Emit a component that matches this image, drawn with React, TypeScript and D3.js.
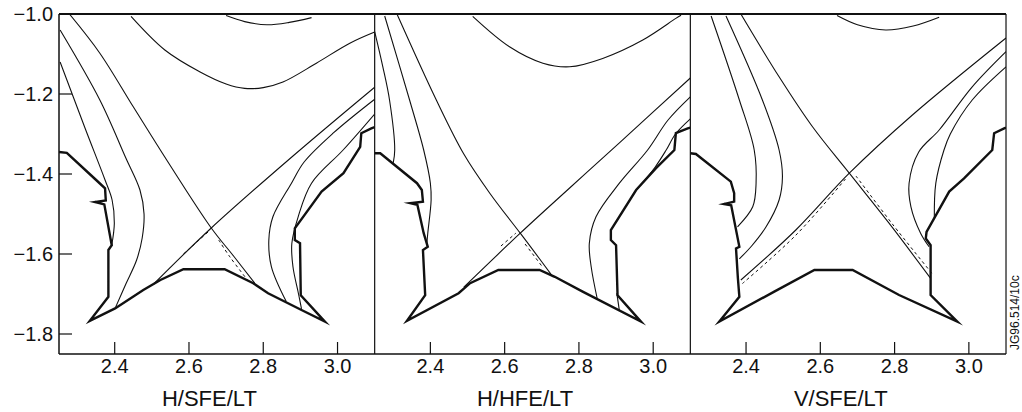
import React from 'react';
import * as d3 from 'd3';

type Pt = [number, number];

const xTicks = [2.4, 2.6, 2.8, 3.0];
const yTicks = [-1.0, -1.2, -1.4, -1.6, -1.8];
const panelTitles = ['H/SFE/LT', 'H/HFE/LT', 'V/SFE/LT'];
const xDomain: [number, number] = [2.25, 3.1];
const yDomain: [number, number] = [-1.85, -1.0];
const figureCode = 'JG96.514/10c';

// ---------- Panel 1 : H/SFE/LT ----------
const p1Boundary: Pt[] = [
  [2.25, -1.345], [2.271, -1.347], [2.35, -1.415], [2.374, -1.436], [2.376, -1.466], [2.347, -1.47],
  [2.372, -1.476], [2.392, -1.578], [2.383, -1.59], [2.383, -1.707], [2.333, -1.767], [2.401, -1.736],
  [2.477, -1.69], [2.523, -1.665], [2.585, -1.638], [2.696, -1.638], [2.773, -1.673], [2.813, -1.698],
  [2.903, -1.74], [2.966, -1.769], [2.901, -1.703], [2.899, -1.573], [2.885, -1.565], [2.885, -1.536],
  [2.957, -1.444], [3.016, -1.398], [3.061, -1.332], [3.064, -1.298], [3.091, -1.286], [3.1, -1.283],
];
const p1ArcTop: Pt[] = [[2.70, -1.004], [2.75, -1.019], [2.81, -1.027], [2.87, -1.021], [2.93, -1.009]];
const p1ArcMid: Pt[] = [
  [2.444, -1.006], [2.535, -1.09], [2.63, -1.145], [2.70, -1.175], [2.75, -1.186], [2.80, -1.184],
  [2.853, -1.17], [2.943, -1.123], [3.033, -1.073], [3.1, -1.045],
];
const p1LeftOuter: Pt[] = [
  [2.253, -1.04], [2.36, -1.215], [2.43, -1.36], [2.468, -1.44], [2.479, -1.5], [2.474, -1.56],
  [2.459, -1.615], [2.43, -1.675], [2.401, -1.736],
];
const p1LeftInner: Pt[] = [[2.253, -1.12], [2.32, -1.285], [2.374, -1.415], [2.393, -1.465], [2.399, -1.523], [2.392, -1.578]];
const p1Desc: Pt[] = [[2.278, -1.0], [2.36, -1.098], [2.45, -1.232], [2.54, -1.365], [2.66, -1.535], [2.72, -1.605], [2.777, -1.673]];
const p1Asc: Pt[] = [[2.505, -1.675], [2.66, -1.535], [2.88, -1.355], [3.1, -1.183]];
const p1RightOuter: Pt[] = [
  [3.1, -1.213], [2.988, -1.298], [2.91, -1.37], [2.876, -1.423], [2.826, -1.507], [2.815, -1.565],
  [2.822, -1.632], [2.862, -1.719],
];
const p1RightInner: Pt[] = [
  [3.1, -1.25], [3.015, -1.34], [2.93, -1.423], [2.894, -1.507], [2.877, -1.573], [2.88, -1.632],
  [2.895, -1.70], [2.903, -1.737],
];
const p1DashAsc: Pt[] = [[2.585, -1.60], [2.655, -1.542]];
const p1DashDesc: Pt[] = [[2.68, -1.565], [2.71, -1.607], [2.76, -1.668]];

// ---------- Panel 2 : H/HFE/LT ----------
const p2Boundary: Pt[] = [
  [2.25, -1.348], [2.265, -1.348], [2.364, -1.423], [2.377, -1.44], [2.38, -1.469], [2.346, -1.473],
  [2.365, -1.477], [2.382, -1.548], [2.393, -1.582], [2.38, -1.59], [2.386, -1.703], [2.337, -1.767],
  [2.476, -1.698], [2.507, -1.673], [2.583, -1.64], [2.694, -1.64], [2.735, -1.657], [2.81, -1.694],
  [2.967, -1.769], [2.904, -1.703], [2.90, -1.578], [2.886, -1.565], [2.886, -1.54], [2.954, -1.44],
  [3.007, -1.386], [3.057, -1.34], [3.061, -1.298], [3.093, -1.286], [3.1, -1.284],
];
const p2Arc: Pt[] = [
  [2.514, -1.006], [2.613, -1.082], [2.703, -1.123], [2.775, -1.132], [2.864, -1.111], [2.972, -1.065],
  [3.061, -1.011], [3.075, -1.003],
];
const p2LeftA: Pt[] = [[2.25, -1.044], [2.272, -1.132], [2.29, -1.215], [2.304, -1.34], [2.30, -1.372]];
const p2LeftB: Pt[] = [[2.277, -1.005], [2.344, -1.215], [2.382, -1.34], [2.40, -1.423], [2.402, -1.465], [2.393, -1.548], [2.39, -1.578]];
const p2Desc: Pt[] = [[2.31, -1.0], [2.416, -1.215], [2.49, -1.35], [2.56, -1.448], [2.642, -1.548], [2.673, -1.586], [2.73, -1.657]];
const p2Asc: Pt[] = [[2.49, -1.683], [2.642, -1.548], [2.775, -1.435], [2.909, -1.322], [3.1, -1.16]];
const p2RightA: Pt[] = [
  [3.1, -1.207], [3.04, -1.265], [2.985, -1.34], [2.909, -1.423], [2.846, -1.507], [2.828, -1.573],
  [2.833, -1.632], [2.85, -1.715],
];
const p2RightB: Pt[] = [[3.1, -1.262], [3.06, -1.30], [3.035, -1.34], [3.005, -1.383], [2.955, -1.44]];
const p2RightBLow: Pt[] = [[2.902, -1.698], [2.909, -1.742]];
const p2DashAsc: Pt[] = [[2.59, -1.58], [2.63, -1.548]];
const p2DashDesc: Pt[] = [[2.655, -1.575], [2.70, -1.63]];

// ---------- Panel 3 : V/SFE/LT ----------
const p3Boundary: Pt[] = [
  [2.25, -1.348], [2.265, -1.35], [2.359, -1.419], [2.368, -1.448], [2.368, -1.469], [2.341, -1.475],
  [2.36, -1.478], [2.382, -1.582], [2.373, -1.586], [2.378, -1.66], [2.382, -1.707], [2.328, -1.769],
  [2.476, -1.694], [2.584, -1.64], [2.687, -1.64], [2.812, -1.7025], [2.969, -1.769], [2.897, -1.7025],
  [2.897, -1.578], [2.884, -1.561], [2.886, -1.545], [2.947, -1.444], [2.987, -1.411], [3.063, -1.34],
  [3.068, -1.298], [3.095, -1.286], [3.1, -1.284],
];
const p3ArcTop: Pt[] = [[2.645, -1.004], [2.70, -1.027], [2.776, -1.04], [2.85, -1.03], [2.92, -1.008]];
const p3LeftA: Pt[] = [[2.306, -1.005], [2.382, -1.215], [2.422, -1.34], [2.427, -1.423], [2.418, -1.482], [2.377, -1.532]];
const p3LeftB: Pt[] = [
  [2.346, -1.005], [2.444, -1.215], [2.489, -1.34], [2.498, -1.407], [2.489, -1.465], [2.454, -1.532],
  [2.415, -1.58], [2.382, -1.612],
];
const p3Desc: Pt[] = [[2.386, -1.0], [2.489, -1.157], [2.579, -1.282], [2.678, -1.398], [2.785, -1.523], [2.897, -1.661]];
const p3Asc: Pt[] = [[2.386, -1.665], [2.534, -1.54], [2.678, -1.398], [2.848, -1.2525], [3.1, -1.06]];
const p3RightA: Pt[] = [
  [3.1, -1.094], [3.009, -1.182], [2.92, -1.29], [2.865, -1.345], [2.839, -1.423], [2.844, -1.482],
  [2.87, -1.548], [2.893, -1.582],
];
const p3RightB: Pt[] = [[3.1, -1.132], [3.009, -1.215], [2.95, -1.30], [2.933, -1.34], [2.911, -1.423], [2.907, -1.511]];
const p3DashAsc: Pt[] = [[2.39, -1.674], [2.534, -1.553], [2.67, -1.41]];
const p3DashDesc: Pt[] = [[2.696, -1.405], [2.794, -1.525], [2.90, -1.648]];

const panels = [
  {
    title: panelTitles[0], boundary: p1Boundary,
    thin: [p1ArcTop, p1ArcMid, p1LeftOuter, p1LeftInner, p1Desc, p1Asc, p1RightOuter, p1RightInner],
    dashed: [p1DashAsc, p1DashDesc],
  },
  {
    title: panelTitles[1], boundary: p2Boundary,
    thin: [p2Arc, p2LeftA, p2LeftB, p2Desc, p2Asc, p2RightA, p2RightB, p2RightBLow],
    dashed: [p2DashAsc, p2DashDesc],
  },
  {
    title: panelTitles[2], boundary: p3Boundary,
    thin: [p3ArcTop, p3LeftA, p3LeftB, p3Desc, p3Asc, p3RightA, p3RightB],
    dashed: [p3DashAsc, p3DashDesc],
  },
];

const TOP = 14;
const BOTTOM = 354;
const LEFT0 = 59;
const PW = 315.67;
const INK = '#111';
const FONT = '"Liberation Sans", Arial, Helvetica, sans-serif';

export default function App() {
  const y = d3.scaleLinear().domain(yDomain).range([BOTTOM, TOP]);
  const fmtY = (v: number) => '\u2212' + Math.abs(v).toFixed(1);
  return (
    <svg width={1022} height={412} style={{ position: 'absolute', left: 0, top: 0, background: '#fff' }}>
      <rect x={0} y={0} width={1022} height={412} fill="#fff" />
      <defs>
        {panels.map((_, i) => (
          <clipPath id={`clip${i}`} key={i}>
            <rect x={LEFT0 + i * PW} y={TOP} width={PW} height={BOTTOM - TOP} />
          </clipPath>
        ))}
      </defs>
      {panels.map((p, i) => {
        const left = LEFT0 + i * PW;
        const x = d3.scaleLinear().domain(xDomain).range([left, left + PW]);
        const smooth = d3.line<Pt>().x(d => x(d[0])).y(d => y(d[1])).curve(d3.curveCatmullRom.alpha(0.5));
        const poly = d3.line<Pt>().x(d => x(d[0])).y(d => y(d[1]));
        const titleX = x(2.655);
        return (
          <g key={i}>
            <g clipPath={`url(#clip${i})`}>
              {p.thin.map((c, j) => (
                <path key={j} d={smooth(c) || ''} fill="none" stroke={INK} strokeWidth={1.1} />
              ))}
              {p.dashed.map((c, j) => (
                <path key={'d' + j} d={smooth(c) || ''} fill="none" stroke={INK} strokeWidth={1} strokeDasharray="3,3" />
              ))}
              <path d={poly(p.boundary) || ''} fill="none" stroke={INK} strokeWidth={2.4} strokeLinejoin="miter" strokeMiterlimit={6} />
            </g>
            {xTicks.map(t => (
              <g key={t}>
                <line x1={x(t)} x2={x(t)} y1={BOTTOM} y2={BOTTOM - 12} stroke={INK} strokeWidth={1.2} />
                <text x={x(t)} y={373} textAnchor="middle" fontFamily={FONT} fontSize={20} fill={INK}>
                  {t.toFixed(1)}
                </text>
              </g>
            ))}
            <text x={titleX} y={406} textAnchor="middle" fontFamily={FONT} fontSize={22} fill={INK}>
              {p.title}
            </text>
            <line x1={left + PW} x2={left + PW} y1={TOP} y2={BOTTOM} stroke={INK} strokeWidth={1.2} />
          </g>
        );
      })}
      {/* frame */}
      <line x1={LEFT0} x2={LEFT0 + 3 * PW} y1={TOP} y2={TOP} stroke={INK} strokeWidth={2} />
      <line x1={LEFT0} x2={LEFT0 + 3 * PW} y1={BOTTOM} y2={BOTTOM} stroke={INK} strokeWidth={1.5} />
      <line x1={LEFT0} x2={LEFT0} y1={TOP} y2={BOTTOM} stroke={INK} strokeWidth={1.5} />
      {yTicks.map(t => (
        <g key={t}>
          <line x1={LEFT0} x2={LEFT0 + 13} y1={y(t)} y2={y(t)} stroke={INK} strokeWidth={1.2} />
          <text x={53} y={y(t)} dy="0.36em" textAnchor="end" fontFamily={FONT} fontSize={20} fill={INK}>
            {fmtY(t)}
          </text>
        </g>
      ))}
      <text transform="translate(1019,350) rotate(-90)" fontFamily={FONT} fontSize={12} fill={INK}>
        {figureCode}
      </text>
    </svg>
  );
}
